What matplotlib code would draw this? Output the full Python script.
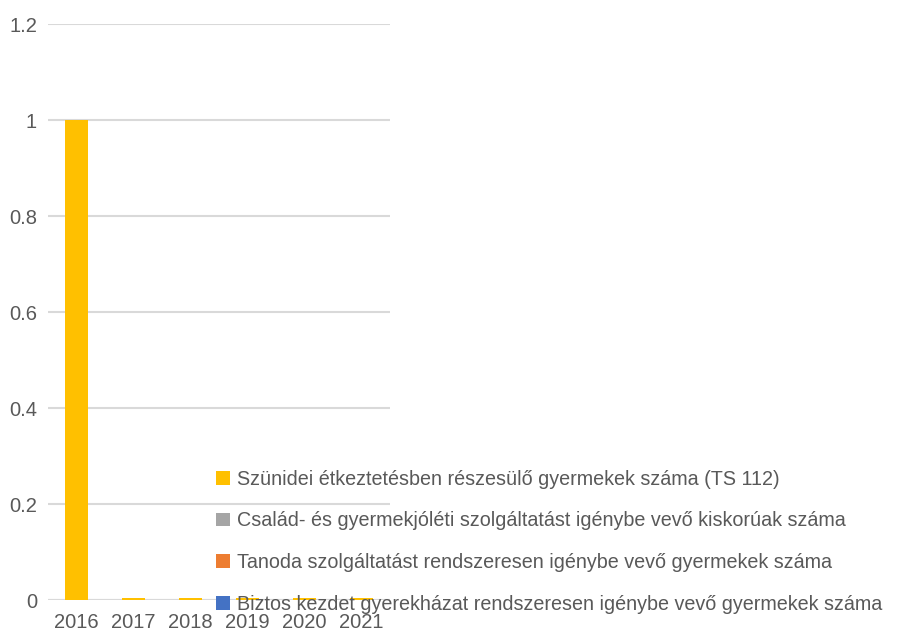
import numpy as np
import matplotlib.pyplot as plt

plt.rcParams['font.family'] = ['Liberation Sans', 'DejaVu Sans']

years = ['2016', '2017', '2018', '2019', '2020', '2021']
szunidei = [1, 0.004, 0.004, 0.004, 0.004, 0.004]
csalad = [0, 0, 0, 0, 0, 0]
tanoda = [0, 0, 0, 0, 0, 0]
biztos = [0, 0, 0, 0, 0, 0]

series = [
    ('Biztos kezdet gyerekházat rendszeresen igénybe vevő gyermekek száma', biztos, '#4472C4'),
    ('Tanoda szolgáltatást rendszeresen igénybe vevő gyermekek száma', tanoda, '#ED7D31'),
    ('Család- és gyermekjóléti szolgáltatást igénybe vevő kiskorúak száma', csalad, '#A5A5A5'),
    ('Szünidei étkeztetésben részesülő gyermekek száma (TS 112)', szunidei, '#FFC000'),
]

fig = plt.figure(figsize=(8.98, 6.32), dpi=100)
ax = fig.add_axes([48 / 898, 32 / 632, 342 / 898, 576 / 632])

x = np.arange(len(years))
bottom = np.zeros(len(years))
handles = []
for label, vals, col in series:
    b = ax.bar(x, vals, 0.4, bottom=bottom, color=col, label=label, zorder=3)
    bottom += np.array(vals)
    handles.append(b)

ax.set_xlim(-0.5, len(years) - 0.5)
ax.set_ylim(0, 1.2)
ax.set_yticks([0, 0.2, 0.4, 0.6, 0.8, 1, 1.2])
ax.set_yticklabels(['0', '0.2', '0.4', '0.6', '0.8', '1', '1.2'])
ax.set_xticks(x)
ax.set_xticklabels(years)
ax.grid(axis='y', color='#D9D9D9', linewidth=1.5, zorder=0)
for s in ax.spines.values():
    s.set_visible(False)
ax.tick_params(length=0, labelsize=14.5, colors='#595959')
ax.tick_params(axis='x', pad=9)
ax.tick_params(axis='y', pad=8)
ax.axhline(0, color='#D9D9D9', linewidth=1.5, zorder=2)

fig.legend(handles[::-1], [s[0] for s in series][::-1], loc='upper left',
           bbox_to_anchor=(198 / 898, 1 - 452 / 632), frameon=False,
           fontsize=14.2, labelcolor='#595959', handlelength=0.7, handleheight=0.7,
           handletextpad=0.4, labelspacing=1.15)

fig.savefig('out.png', dpi=100)
